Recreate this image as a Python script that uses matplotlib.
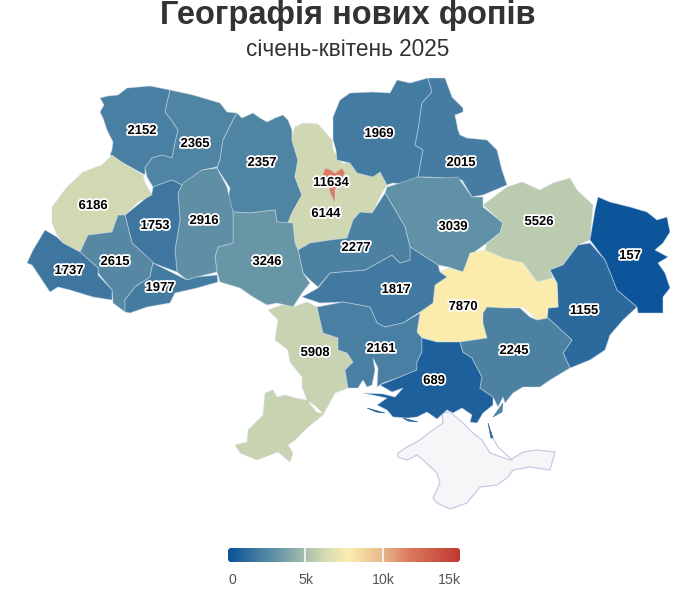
import numpy as np
import matplotlib
matplotlib.use("Agg")
import matplotlib.pyplot as plt
from matplotlib.colors import LinearSegmentedColormap, Normalize
from matplotlib.patches import Polygon, FancyBboxPatch
import matplotlib.patheffects as pe

plt.rcParams['font.family'] = ['Liberation Sans', 'DejaVu Sans']

# Values
region_names = ['volyn', 'rivne', 'zhytomyr', 'kyiv_obl', 'chernihiv', 'sumy', 'poltava', 'kharkiv',
                'luhansk', 'donetsk', 'dnipro', 'kirovohrad', 'cherkasy', 'vinnytsia', 'khmelnytskyi',
                'ternopil', 'lviv', 'frankivsk', 'zakarpattia', 'chernivtsi', 'odesa', 'mykolaiv',
                'kherson', 'zaporizhzhia', 'kyiv_city']
region_values = [2152, 2365, 2357, 6144, 1969, 2015, 3039, 5526,
                 157, 1155, 7870, 1817, 2277, 3246, 2916,
                 1753, 6186, 2615, 1737, 1977, 5908, 2161,
                 689, 2245, 11634]
legend_ticks = [0, 5000, 10000, 15000]
legend_labels = ['0', '5k', '10k', '15k']

# Map geometry (image pixel space)
outlines = {
 'volyn': [(170,90),(165,112),(170,118),(178,130),(175,143),(172,158),(162,155),(152,158),(145,168),(145,175),(123,163),(110,155),(112,150),(113,142),(107,130),(103,118),(100,112),(104,105),(100,98),(108,96),(118,95),(127,88),(150,86)],
 'rivne': [(170,90),(193,95),(220,103),(227,112),(237,113),(233,120),(223,140),(220,160),(217,167),(202,170),(182,185),(172,180),(153,187),(147,177),(145,168),(152,158),(162,155),(172,158),(175,143),(178,130),(170,118),(165,112)],
 'zhytomyr': [(237,113),(242,118),(253,113),(260,118),(267,122),(275,118),(283,115),(288,120),(292,130),(292,140),(298,160),(295,177),(302,195),(292,213),(288,223),(277,222),(275,210),(250,213),(233,212),(228,200),(230,188),(217,168),(220,160),(223,140),(233,120)],
 'kyiv_obl': [(292,135),(295,127),(303,123),(318,124),(325,132),(332,140),(333,150),(342,163),(350,163),(357,173),(373,177),(380,172),(387,185),(382,193),(372,213),(360,212),(353,220),(347,238),(330,240),(310,243),(298,250),(295,243),(293,223),(288,223),(292,213),(302,195),(295,177),(298,160),(292,140)],
 'chernihiv': [(333,117),(340,100),(350,93),(373,92),(390,93),(397,80),(410,83),(428,78),(432,92),(422,103),(418,130),(415,145),(423,150),(418,177),(410,185),(393,183),(387,185),(380,172),(373,177),(357,173),(350,163),(337,160),(336,150),(333,140)],
 'sumy': [(428,78),(445,78),(452,97),(463,108),(463,112),(455,115),(458,130),(460,135),(467,138),(487,140),(497,150),(502,170),(507,185),(483,195),(472,197),(462,180),(445,178),(427,177),(418,177),(423,150),(415,145),(418,130),(422,103),(432,92)],
 'poltava': [(387,187),(400,183),(418,177),(445,178),(458,177),(472,197),(483,197),(483,207),(503,223),(500,233),(487,243),(473,253),(463,272),(448,267),(438,265),(410,247),(405,227),(397,213),(385,193)],
 'kharkiv': [(483,205),(507,187),(522,182),(540,190),(553,183),(570,178),(577,190),(593,205),(590,240),(578,245),(563,265),(550,270),(553,278),(537,282),(523,263),(503,258),(485,250),(487,243),(500,233),(503,223)],
 'luhansk': [(598,197),(610,202),(630,207),(647,212),(657,220),(667,217),(670,232),(663,243),(655,250),(668,257),(658,263),(665,273),(670,288),(663,297),(663,313),(638,313),(637,307),(617,290),(605,260),(590,240),(595,210)],
 'donetsk': [(590,243),(605,260),(617,290),(637,307),(623,320),(610,335),(605,350),(590,360),(570,368),(563,353),(572,340),(548,318),(547,318),(548,308),(558,307),(557,283),(550,270),(563,265),(578,245)],
 'dnipro': [(463,272),(470,253),(485,250),(503,258),(523,263),(537,282),(553,278),(557,283),(558,307),(548,308),(547,318),(537,320),(530,313),(523,307),(503,308),(487,307),(483,317),(487,338),(460,342),(437,342),(422,337),(417,332),(420,312),(433,303),(435,285),(447,277),(440,272),(448,268)],
 'kirovohrad': [(302,297),(320,303),(343,302),(370,307),(377,323),(385,327),(403,323),(420,312),(433,303),(435,285),(447,277),(440,272),(438,265),(410,247),(410,260),(400,263),(392,255),(365,270),(340,272),(330,273),(318,288)],
 'cherkasy': [(298,250),(310,243),(330,240),(347,238),(353,220),(360,212),(372,213),(385,193),(397,213),(405,227),(410,247),(410,260),(400,263),(392,255),(365,270),(340,272),(330,273),(318,287),(310,280),(303,273)],
 'vinnytsia': [(233,212),(250,213),(275,210),(277,222),(293,223),(295,243),(298,250),(303,273),(310,283),(302,293),(293,307),(277,303),(267,305),(253,297),(240,288),(220,282),(217,272),(215,257),(218,247),(233,243)],
 'khmelnytskyi': [(217,168),(227,187),(230,200),(233,212),(233,243),(218,247),(215,257),(217,272),(197,277),(187,280),(177,272),(175,250),(180,220),(178,193),(183,183),(202,170)],
 'ternopil': [(153,187),(172,180),(182,185),(178,193),(180,220),(175,250),(177,272),(153,263),(143,253),(132,243),(125,215),(140,203),(152,193)],
 'lviv': [(52,207),(67,187),(83,172),(102,165),(112,155),(123,163),(143,175),(145,183),(152,195),(138,202),(125,215),(118,215),(112,232),(88,235),(80,252),(63,243),(57,235),(52,223)],
 'frankivsk': [(80,252),(88,235),(112,232),(118,215),(125,215),(132,243),(143,253),(153,262),(150,277),(135,287),(125,300),(125,312),(113,303),(112,290),(98,273),(98,268)],
 'zakarpattia': [(45,230),(57,237),(63,243),(80,252),(98,268),(98,275),(112,290),(112,300),(93,297),(70,290),(58,287),(50,292),(40,277),(32,265),(27,263),(33,250)],
 'chernivtsi': [(153,263),(177,275),(187,280),(197,277),(217,275),(218,282),(197,288),(175,293),(170,303),(147,307),(130,313),(125,312),(125,300),(135,287),(150,277)],
 'odesa': [(268,310),(282,305),(293,307),(307,302),(317,307),(323,333),(338,338),(338,350),(347,353),(353,362),(345,370),(348,388),(335,393),(323,415),(307,428),(295,440),(288,445),(293,453),(290,462),(278,452),(257,460),(240,453),(235,445),(247,442),(248,430),(263,415),(265,393),(273,390),(277,397),(285,395),(295,398),(307,400),(302,387),(302,377),(290,362),(288,350),(275,340),(278,320)],
 'mykolaiv': [(317,307),(343,302),(370,307),(377,323),(385,327),(403,323),(420,313),(417,332),(422,338),(422,352),(417,362),(417,370),(400,377),(383,383),(380,385),(377,387),(378,368),(373,358),(375,370),(372,385),(367,387),(363,380),(358,388),(348,388),(345,370),(353,362),(347,353),(338,350),(338,338),(323,333)],
 'kherson': [(422,338),(437,342),(460,342),(463,352),(472,358),(482,377),(480,388),(493,397),(493,405),(483,413),(477,423),(470,422),(472,415),(462,408),(453,413),(447,410),(437,419),(427,412),(417,417),(407,418),(393,417),(387,410),(377,405),(387,398),(363,393),(383,394),(395,397),(403,388),(392,392),(380,385),(400,377),(417,370),(417,362),(422,352)],
 'zaporizhzhia': [(487,338),(483,323),(483,313),(487,307),(503,308),(520,308),(530,317),(537,320),(548,318),(572,340),(563,353),(570,368),(550,380),(540,387),(523,387),(513,393),(505,403),(503,397),(498,407),(493,397),(480,388),(482,377),(472,358),(463,352),(460,342)],
 'kyiv_city': [(322,177),(325,168),(331,170),(335,173),(342,168),(345,173),(340,182),(335,190),(335,203),(330,193),(328,183)],
}
crimea_outline = [(398,453),(407,447),(420,440),(430,432),(443,423),(442,413),(450,412),(463,423),(473,433),(482,440),(490,453),(510,460),(523,452),(537,450),(555,452),(550,470),(530,467),(513,470),(508,477),(497,485),(480,487),(467,503),(450,509),(437,503),(433,498),(440,483),(437,473),(423,460),(417,455),(407,460),(398,457)]
arabat_line = [(490,433),(498,447),(512,460)]
estuary_white = [(309,402),(316,407),(322,413),(317,412)]
kherson_bits = [[(367,408),(385,413),(376,412)], [(403,418),(418,422),(408,421)], [(488,423),(493,438),(491,438)]]
zap_spit = [(493,417),(503,403),(502,412)]
kyiv_city_color = '#dc7c62'

label_xy = {
 'volyn': (142,131), 'rivne': (195,144), 'zhytomyr': (262,163), 'kyiv_obl': (326,214), 'chernihiv': (379,134),
 'sumy': (461,163), 'poltava': (453,227), 'kharkiv': (539,222), 'luhansk': (630,256), 'donetsk': (584,311),
 'dnipro': (463,307), 'kirovohrad': (396,290), 'cherkasy': (356,248), 'vinnytsia': (267,262), 'khmelnytskyi': (204,221),
 'ternopil': (155,226), 'lviv': (93,206), 'frankivsk': (115,262), 'zakarpattia': (69,271), 'chernivtsi': (160,288),
 'odesa': (315,353), 'mykolaiv': (381,349), 'kherson': (434,381), 'zaporizhzhia': (514,351), 'kyiv_city': (331,183),
}

# Colour scale
norm = Normalize(0, 15000)
stops = [(0, '#08529a'), (1500, '#38729f'), (3000, '#6191a6'), (5500, '#b9cab0'), (6200, '#d2dab2'),
         (7800, '#fceeae'), (10000, '#e8b88c'), (11634, '#dc7c62'), (15000, '#c0392f')]
cmap = LinearSegmentedColormap.from_list('ua', [(v / 15000, c) for v, c in stops])

fig = plt.figure(figsize=(6.96, 5.89), dpi=100, facecolor='white')
ax = fig.add_axes([0, 0, 1, 1])
ax.set_xlim(0, 696)
ax.set_ylim(589, 0)
ax.axis('off')

ax.add_patch(Polygon(crimea_outline, closed=True, fc='#f6f6f9', ec='#c3cce3', lw=0.9, zorder=1))
ax.plot(*zip(*arabat_line), color='#c3cce3', lw=0.9, zorder=1)

edge = (0.82, 0.88, 0.92, 0.45)
for name, val in zip(region_names, region_values):
    col = cmap(norm(val))
    z = 3 if name == 'kyiv_city' else 2
    ax.add_patch(Polygon(outlines[name], closed=True, fc=col, ec=edge, lw=0.7, zorder=z, joinstyle='round'))

ax.add_patch(Polygon(estuary_white, closed=True, fc='white', ec='white', lw=0.5, zorder=3))
kherson_color = cmap(norm(region_values[region_names.index('kherson')]))
for bit in kherson_bits:
    ax.add_patch(Polygon(bit, closed=True, fc=kherson_color, ec=kherson_color, lw=0.4, zorder=2))
ax.add_patch(Polygon(zap_spit, closed=True, fc=cmap(norm(2245)), ec=cmap(norm(2245)), lw=0.4, zorder=2))

stroke = [pe.withStroke(linewidth=2.6, foreground='white')]
for name, val in zip(region_names, region_values):
    x, y = label_xy[name]
    ax.text(x, y, str(val), ha='center', va='center', fontsize=9.4, fontweight='bold', color='black',
            path_effects=stroke, zorder=6)

ax.text(348, 15, 'Географія нових фопів', ha='center', va='center', fontsize=23.5, fontweight='bold', color='#333333')
ax.text(348, 50, 'січень-квітень 2025', ha='center', va='center', fontsize=16.3, color='#333333')

# Colour bar
bx0, bx1, by0, by1 = 228, 460, 548, 562
grad = np.linspace(0, 1, 256).reshape(1, -1)
im = ax.imshow(grad, cmap=cmap, extent=(bx0, bx1, by1, by0), aspect='auto', zorder=4, interpolation='bilinear')
clip = FancyBboxPatch((bx0 + 3, by0 + 3), bx1 - bx0 - 6, by1 - by0 - 6, boxstyle='round,pad=3', fc='none', ec='none',
                      transform=ax.transData)
ax.add_patch(clip)
im.set_clip_path(clip)
ax.set_xlim(0, 696)
ax.set_ylim(589, 0)
for t in legend_ticks[1:-1]:
    xp = bx0 + (bx1 - bx0) * norm(t)
    ax.plot([xp, xp], [by0, by1], color='white', lw=1.1, zorder=5)
tick_x = [232, 306, 383, 449]
for xp, lab in zip(tick_x, legend_labels):
    ax.text(xp, 580.5, lab, ha='center', va='center', fontsize=10.2, color='#555555')

fig.savefig('out.png', dpi=100, facecolor='white')
